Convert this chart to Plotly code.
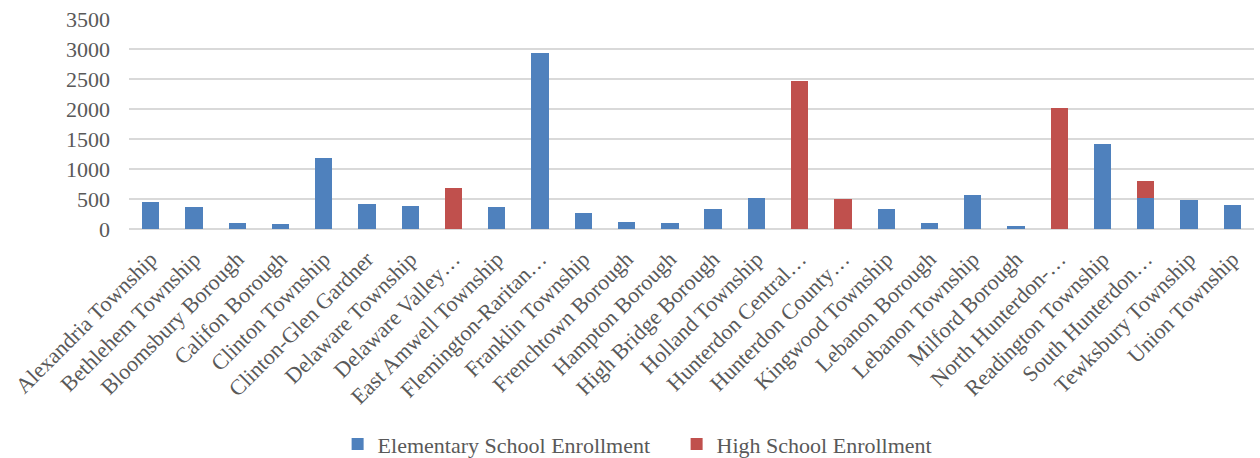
import plotly.graph_objects as go

districts = [
    "Alexandria Township", "Bethlehem Township", "Bloomsbury Borough", "Califon Borough",
    "Clinton Township", "Clinton-Glen Gardner", "Delaware Township", "Delaware Valley…",
    "East Amwell Township", "Flemington-Raritan…", "Franklin Township", "Frenchtown Borough",
    "Hampton Borough", "High Bridge Borough", "Holland Township", "Hunterdon Central…",
    "Hunterdon County…", "Kingwood Township", "Lebanon Borough", "Lebanon Township",
    "Milford Borough", "North Hunterdon-…", "Readington Township", "South Hunterdon…",
    "Tewksbury Township", "Union Township",
]

elementary = [455, 362, 107, 83, 1180, 424, 390, None,
              362, 2932, 262, 112, 95, 334, 512, None,
              None, 329, 100, 562, 57, None, 1419, 524,
              491, 407]

high_school = [None, None, None, None, None, None, None, 691,
               None, None, None, None, None, None, None, 2465,
               507, None, None, None, None, 2014, None, 272,
               None, None]

y_ticks = [0, 500, 1000, 1500, 2000, 2500, 3000, 3500]

FONT = "Liberation Serif"
GRAY = "#595959"

fig = go.Figure()
fig.add_trace(go.Bar(x=districts, y=elementary, name="Elementary School Enrollment",
                     marker=dict(color="#4F81BD", line=dict(width=0))))
fig.add_trace(go.Bar(x=districts, y=high_school, name="High School Enrollment",
                     marker=dict(color="#C0504D", line=dict(width=0))))

fig.update_layout(
    width=1260, height=458,
    barmode="stack", bargap=0.6,
    paper_bgcolor="white", plot_bgcolor="white",
    margin=dict(l=129, r=6, t=19, b=229),
    font=dict(family=FONT, color=GRAY, size=22),
    showlegend=True,
    legend=dict(orientation="h", xref="container", x=0.537, xanchor="center",
                yref="container", y=0.03, yanchor="middle", traceorder="normal",
                font=dict(family=FONT, size=22, color=GRAY),
                entrywidth=294, entrywidthmode="pixels",
                itemsizing="constant", tracegroupgap=0),
)
fig.update_xaxes(tickangle=-45, tickfont=dict(family=FONT, size=22, color=GRAY),
                 showgrid=False, showline=False, ticks="", ticklabelstandoff=12)
fig.update_yaxes(range=[0, 3500], tickvals=y_ticks, tickfont=dict(family=FONT, size=22, color=GRAY),
                 showgrid=True, gridcolor="#D9D9D9", gridwidth=1.5, zeroline=True,
                 zerolinecolor="#D9D9D9", zerolinewidth=1.5, showline=False, ticks="",
                 ticklabelstandoff=18)

fig.write_html("out.html")
